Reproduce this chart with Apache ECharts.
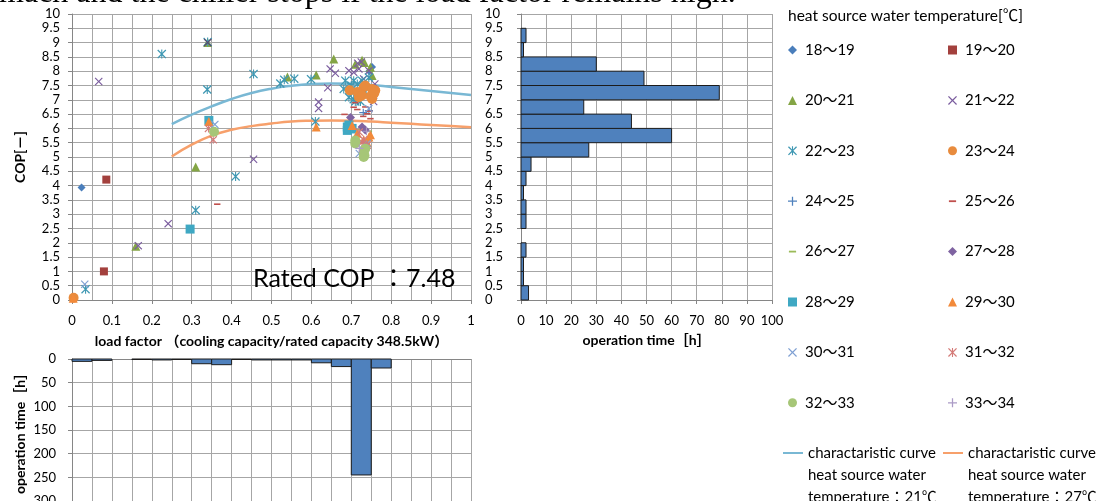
<!DOCTYPE html>
<html><head><meta charset="utf-8">
<script src="https://cdn.jsdelivr.net/npm/echarts@6/dist/echarts.min.js"></script>
<style>html,body{margin:0;padding:0;background:#fff}#chart{width:1101px;height:501px}</style>
</head><body><div id="chart"></div><script>
// COP vs load factor, grouped by heat source water temperature band
const t18_19 = [[0.024,3.93],[0.752,8.15],[0.745,8.0]];
const t19_20 = [[0.086,4.21],[0.08,1.0]];
const t20_21 = [[0.34,9.0],[0.31,4.65],[0.16,1.88],[0.54,7.8],[0.612,7.87],[0.656,8.43],[0.71,8.24],[0.727,8.38],[0.748,8.14],[0.752,7.85],[0.733,8.3]];
const t21_22 = [[0.067,7.64],[0.241,2.67],[0.166,1.9],[0.455,4.92],[0.618,6.92],[0.618,6.7],[0.641,7.42],[0.647,8.08],[0.66,7.93],[0.694,8.02],[0.706,7.96],[0.716,8.28],[0.719,8.08],[0.744,8.02],[0.731,7.73],[0.759,7.55],[0.756,6.94],[0.725,8.32]];
const t22_23 = [[0.225,8.6],[0.34,9.02],[0.339,7.36],[0.455,7.9],[0.522,7.57],[0.532,7.7],[0.557,7.74],[0.599,7.72],[0.61,6.24],[0.31,3.14],[0.41,4.32],[0.034,0.38],[0.685,7.67],[0.706,7.67],[0.681,7.38],[0.698,7.33],[0.694,7.09],[0.706,7.02],[0.715,7.55],[0.727,7.67],[0.735,7.27],[0.723,6.94],[0.71,6.94],[0.744,7.78],[0.7,7.5],[0.72,7.15]];
const t23_24 = [[0.004,0.08],[0.696,7.33],[0.723,7.2],[0.719,7.09],[0.731,7.44],[0.735,7.5],[0.752,7.38],[0.756,7.2],[0.752,7.03],[0.76,7.33],[0.715,7.27],[0.727,7.15],[0.748,7.12],[0.758,7.25]];
const t24_25 = [[0.744,6.62],[0.73,6.55]];
const t25_26 = [[0.364,3.35],[0.683,6.49],[0.715,6.66],[0.73,6.42],[0.74,6.51],[0.745,6.6],[0.748,6.34],[0.706,6.74],[0.71,6.9],[0.735,6.75]];
const t26_27 = [[0.744,5.9],[0.72,5.95]];
const t27_28 = [[0.698,6.38],[0.727,6.05],[0.735,5.94]];
const t28_29 = [[0.343,6.28],[0.296,2.48],[0.69,6.05],[0.69,5.93],[0.702,6.0],[0.694,6.12],[0.698,5.98]];
const t29_30 = [[0.003,0.06],[0.343,6.24],[0.612,6.05],[0.702,6.1],[0.715,5.83],[0.731,5.6],[0.744,5.7],[0.74,5.5],[0.748,5.78]];
const t30_31 = [[0.032,0.55],[0.358,6.14],[0.72,5.12],[0.744,6.69],[0.74,5.47],[0.731,5.45]];
const t31_32 = [[0.342,6.0],[0.354,5.6],[0.72,5.87],[0.727,5.52],[0.74,5.41],[0.731,5.6]];
const t32_33 = [[0.356,5.88],[0.71,5.58],[0.71,5.47],[0.731,5.17],[0.731,5.0],[0.735,5.29],[0.733,5.05]];
const t33_34 = [[0.72,5.3],[0.738,5.9]];
// the 21～22 point at (0.34, 9.0) sits on top of the 22～23 star there
const t21_22_top = [[0.34,9.0]];

// characteristic curves (load factor -> COP)
const curveLoad = [0.25,0.3,0.35,0.4,0.45,0.5,0.55,0.6,0.65,0.7,0.75,0.8,0.85,0.9,0.95,1.0];
const curve21 = [6.15,6.48,6.77,7.03,7.24,7.39,7.49,7.55,7.57,7.56,7.52,7.45,7.38,7.31,7.24,7.17];
const curve27 = [5.02,5.43,5.75,5.95,6.08,6.17,6.24,6.27,6.28,6.27,6.24,6.2,6.16,6.12,6.08,6.04];

// operation time per COP band [h]
const copBinEdges = [0,0.5,1,1.5,2,2.5,3,3.5,4,4.5,5,5.5,6,6.5,7,7.5,8,8.5,9,9.5,10];
const copHours = [3,1,1,2,0,2,2,1,2,4,27,60,44,25,79,49,30,1,2,0];

// operation time per load factor band [h]
const loadBinEdges = [0,0.05,0.1,0.15,0.2,0.25,0.3,0.35,0.4,0.45,0.5,0.55,0.6,0.65,0.7,0.75,0.8,0.85,0.9,0.95,1];
const loadHours = [5,3,0,1,2,1,10,12,1,2,2,2,8,16,245,19,0,0,0,0];

const FONT = "Lato, 'Noto Sans CJK JP', sans-serif";
const X_PATH = 'path://M0,1L1,0L5,4L9,0L10,1L6,5L10,9L9,10L5,6L1,10L0,9L4,5Z';
const STAR_PATH = 'path://M0,1L1,0L5,4L9,0L10,1L6,5L10,9L9,10L5,6L1,10L0,9L4,5Z M4.4,0H5.6V10H4.4Z';
const PLUS_PATH = 'path://M4.3,0H5.7V4.3H10V5.7H5.7V10H4.3V5.7H0V4.3H4.3Z';
const DASH_PATH = 'path://M0,0M10,10M1,4H9V6H1Z';

const bands = [
  ['18～19', t18_19, 'diamond', '#4a7ebb', 8],
  ['19～20', t19_20, 'rect', '#a3403d', 8],
  ['20～21', t20_21, 'triangle', '#84a545', 9],
  ['21～22', t21_22, X_PATH, '#7a5c9e', 8],
  ['22～23', t22_23, STAR_PATH, '#3f98b3', 9],
  ['23～24', t23_24, 'circle', '#e88b3d', 10],
  ['24～25', t24_25, PLUS_PATH, '#4f81bd', 8],
  ['25～26', t25_26, DASH_PATH, '#c0504d', 8],
  ['26～27', t26_27, DASH_PATH, '#9bbb59', 8],
  ['27～28', t27_28, 'diamond', '#7f63a1', 9],
  ['28～29', t28_29, 'rect', '#3fa8c3', 9],
  ['29～30', t29_30, 'triangle', '#f28a3a', 9],
  ['30～31', t30_31, X_PATH, '#7fa0d3', 8],
  ['31～32', t31_32, STAR_PATH, '#d47b78', 8],
  ['32～33', t32_33, 'circle', '#a6c677', 10],
  ['33～34', t33_34, PLUS_PATH, '#ab9bc6', 8]
];

const curveName21 = 'charactaristic curve\nheat source water\ntemperature：21℃';
const curveName27 = 'charactaristic curve\nheat source water\ntemperature：27℃';

const axisLineStyle = { lineStyle: { color: '#868686', width: 1 } };
const gridLine = { show: true, lineStyle: { color: '#a6a6a6', width: 1 } };
const labelStyle = { color: '#000', fontFamily: FONT, fontSize: 13 };
const nameStyle = { color: '#000', fontFamily: FONT, fontSize: 14, fontWeight: 'bold' };

const series = bands.map(b => ({
  name: b[0], type: 'scatter', xAxisIndex: 0, yAxisIndex: 0,
  data: b[1], symbol: b[2], symbolSize: b[4], z: 3,
  itemStyle: { color: b[3], opacity: 1 },
  emphasis: { disabled: true }
}));
series.push({
  name: '21～22', type: 'scatter', xAxisIndex: 0, yAxisIndex: 0,
  data: t21_22_top, symbol: X_PATH, symbolSize: 8, z: 4,
  itemStyle: { color: '#5a4a6e', opacity: 1 }, emphasis: { disabled: true }
});

series.push({
  name: curveName21, type: 'line', xAxisIndex: 0, yAxisIndex: 0, z: 2,
  data: curveLoad.map((x, i) => [x, curve21[i]]), smooth: true,
  symbol: 'none', lineStyle: { color: '#79b8d4', width: 2.5 }, itemStyle: { color: '#79b8d4' }
});
series.push({
  name: curveName27, type: 'line', xAxisIndex: 0, yAxisIndex: 0, z: 2,
  data: curveLoad.map((x, i) => [x, curve27[i]]), smooth: true,
  symbol: 'none', lineStyle: { color: '#f7a06b', width: 2.5 }, itemStyle: { color: '#f7a06b' }
});

// horizontal histogram of operation time by COP band
series.push({
  type: 'custom', xAxisIndex: 1, yAxisIndex: 1,
  data: copHours.map((h, i) => [copBinEdges[i], copBinEdges[i + 1], h]),
  encode: { x: 2, y: [0, 1] },
  renderItem: function (params, api) {
    const h = api.value(2);
    if (!h) return null;
    const a = api.coord([0, api.value(1)]);
    const b = api.coord([h, api.value(0)]);
    return { type: 'rect', shape: { x: a[0], y: a[1], width: b[0] - a[0], height: b[1] - a[1] },
      style: { fill: '#4f81bd', stroke: '#1c1c1c', lineWidth: 1 } };
  }
});

// hanging histogram of operation time by load factor band
series.push({
  type: 'custom', xAxisIndex: 2, yAxisIndex: 2,
  data: loadHours.map((h, i) => [loadBinEdges[i], loadBinEdges[i + 1], h]),
  encode: { x: [0, 1], y: 2 },
  renderItem: function (params, api) {
    const h = api.value(2);
    if (!h) return null;
    const a = api.coord([api.value(0), 0]);
    const b = api.coord([api.value(1), h]);
    return { type: 'rect', shape: { x: a[0], y: a[1], width: b[0] - a[0], height: b[1] - a[1] },
      style: { fill: '#4f81bd', stroke: '#1c1c1c', lineWidth: 1 } };
  }
});

const legendText = { color: '#000', fontFamily: FONT, fontSize: 15, lineHeight: 16, padding: [0, 0, 0, 3] };
const col1 = bands.filter((b, i) => i % 2 === 0).map(b => b[0]);
const col2 = bands.filter((b, i) => i % 2 === 1).map(b => b[0]);
const curveLegendText = { color: '#000', fontFamily: FONT, fontSize: 15, lineHeight: 22 };

const option = {
  animation: false,
  backgroundColor: '#fff',
  grid: [
    { left: 72, top: 14, width: 399, height: 286, outerBoundsMode: 'none' },
    { left: 521, top: 14, width: 251, height: 286, outerBoundsMode: 'none' },
    { left: 72, top: 359, width: 399, height: 142, outerBoundsMode: 'none' }
  ],
  xAxis: [
    { type: 'value', gridIndex: 0, min: 0, max: 1, interval: 0.1,
      name: 'load factor （cooling capacity/rated capacity 348.5kW）', nameLocation: 'middle', nameGap: 34,
      nameTextStyle: nameStyle, axisLine: axisLineStyle,
      axisTick: { show: true, length: 4, lineStyle: { color: '#868686' } },
      axisLabel: Object.assign({ margin: 14 }, labelStyle),
      splitLine: gridLine, minorTick: { show: false, splitNumber: 2 }, minorSplitLine: gridLine },
    { type: 'value', gridIndex: 1, min: 0, max: 100, interval: 10,
      name: 'operation time［h］', nameLocation: 'middle', nameGap: 33,
      nameTextStyle: nameStyle, axisLine: axisLineStyle,
      axisTick: { show: true, length: 4, lineStyle: { color: '#868686' } },
      axisLabel: Object.assign({ margin: 14 }, labelStyle), splitLine: gridLine },
    { type: 'value', gridIndex: 2, min: 0, max: 1, interval: 0.05, position: 'top',
      axisLine: axisLineStyle, axisTick: { show: false }, axisLabel: { show: false }, splitLine: gridLine }
  ],
  yAxis: [
    { type: 'value', gridIndex: 0, min: 0, max: 10, interval: 0.5,
      name: 'COP[－]', nameLocation: 'middle', nameGap: 45, nameTextStyle: nameStyle,
      axisLine: { show: true, lineStyle: { color: '#868686' } },
      axisTick: { show: true, length: 4, lineStyle: { color: '#868686' } },
      axisLabel: Object.assign({ margin: 12 }, labelStyle), splitLine: gridLine },
    { type: 'value', gridIndex: 1, min: 0, max: 10, interval: 0.5,
      axisLine: { show: true, lineStyle: { color: '#868686' } },
      axisTick: { show: true, length: 4, lineStyle: { color: '#868686' } },
      axisLabel: Object.assign({ margin: 36, align: 'left' }, labelStyle), splitLine: gridLine },
    { type: 'value', gridIndex: 2, min: 0, max: 300, interval: 50, inverse: true,
      name: 'operation time［h］', nameLocation: 'middle', nameGap: 45, nameTextStyle: nameStyle,
      axisLine: { show: true, lineStyle: { color: '#868686' } },
      axisTick: { show: true, length: 4, lineStyle: { color: '#868686' } },
      axisLabel: Object.assign({ margin: 16 }, labelStyle), splitLine: gridLine }
  ],
  legend: [
    { orient: 'vertical', left: 788, top: 42, padding: 0, itemGap: 34.4, itemWidth: 9, itemHeight: 9,
      selectedMode: false, data: col1, textStyle: legendText },
    { orient: 'vertical', left: 948, top: 42, padding: 0, itemGap: 34.4, itemWidth: 9, itemHeight: 9,
      selectedMode: false, data: col2, textStyle: legendText },
    { orient: 'vertical', left: 783, top: 398, padding: 0, itemWidth: 20, itemHeight: 2,
      selectedMode: false, data: [{ name: curveName21, icon: 'rect' }], textStyle: curveLegendText,
      formatter: n => '\n\n' + n },
    { orient: 'vertical', left: 943, top: 398, padding: 0, itemWidth: 20, itemHeight: 2,
      selectedMode: false, data: [{ name: curveName27, icon: 'rect' }], textStyle: curveLegendText,
      formatter: n => '\n\n' + n }
  ],
  graphic: [
    { type: 'text', left: -1, top: -22, z: 10,
      style: { text: 'mach and the chiller stops if the load factor remains high.',
        font: "32px 'Liberation Serif', serif", fill: '#000' } },
    { type: 'text', left: 788, top: 8,
      style: { text: 'heat source water temperature[℃]', font: "15.5px Lato, 'Noto Sans CJK JP', sans-serif", fill: '#000' } },
    { type: 'text', left: 253, top: 266, z: 10,
      style: { text: 'Rated COP ：7.48', font: "25px Lato, 'Noto Sans CJK JP', sans-serif", fill: '#000' } }
  ],
  series: series
};

const chart = echarts.init(document.getElementById('chart'), null, { renderer: 'canvas' });
chart.setOption(option);
</script></body></html>
